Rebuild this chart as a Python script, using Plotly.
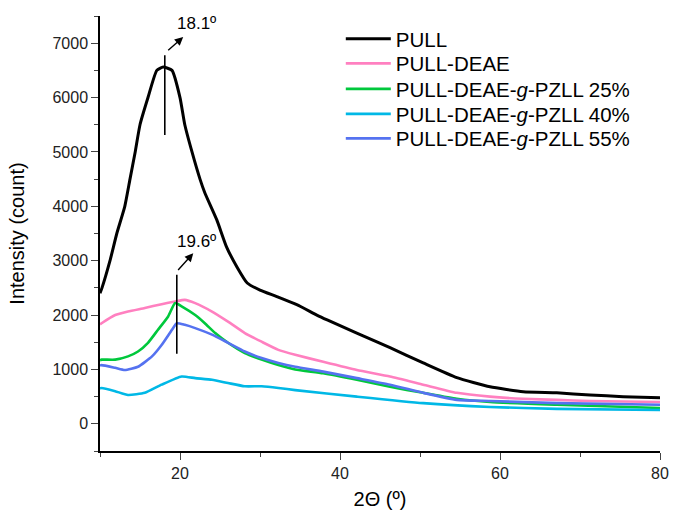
import plotly.graph_objects as go

# PULL (black)
pull_x = [10, 10.25, 11.25, 12.1, 13.1, 13.75, 14.4, 15, 16, 17.1, 17.9, 19, 20, 20.6, 21.5, 22.5, 23.1,
          24.6, 25.8, 27.1, 28.4, 30, 32.1, 34.6, 37.1, 38.4, 42.1, 46.25, 50.4, 54.6, 58.75, 62.9,
          67.1, 71.25, 75.4, 80]
pull_y = [2400, 2500, 3000, 3500, 4000, 4500, 5000, 5500, 6000, 6500, 6560, 6500, 6000, 5500, 5000, 4500, 4250,
          3750, 3260, 2890, 2590, 2460, 2340, 2190, 2000, 1910, 1670, 1400, 1120, 850, 680, 590,
          570, 530, 500, 480]

# PULL-DEAE (pink)
deae_x = [10, 10.2, 11.9, 13.5, 15.6, 17.7, 19.4, 20.6, 21.9, 24, 26, 28.1, 30.2, 32.3, 34.4, 37.9,
          42.1, 46.25, 50.4, 54.6, 58.75, 62.9, 67.1, 71.25, 75.4, 80]
deae_y = [1830, 1850, 2000, 2065, 2130, 2200, 2250, 2280, 2220, 2065, 1880, 1670, 1510, 1360, 1270, 1140,
          990, 870, 720, 570, 500, 460, 440, 420, 410, 400]

# PULL-DEAE-g-PZLL 25% (green)
g25_x = [10, 10.2, 11.9, 13.5, 14.75, 16, 17.25, 18.5, 19.4, 20.2, 21.9, 23.1, 24.4, 26, 28.1, 30.2,
         32.3, 34.4, 37.9, 42.1, 46.25, 50.4, 54.6, 58.75, 67.1, 80]
g25_y = [1170, 1180, 1180, 1240, 1330, 1490, 1730, 1970, 2220, 2160, 2000, 1850, 1670, 1490, 1300, 1180,
         1080, 1000, 930, 810, 680, 570, 460, 400, 350, 290]

# PULL-DEAE-g-PZLL 40% (cyan)
g40_x = [10, 10.2, 11.9, 13.5, 15.6, 17.7, 20.2, 21.9, 24, 26, 28.1, 30.2, 32.3, 34.4, 42.1, 50.4,
         58.75, 67.1, 80]
g40_y = [650, 660, 600, 530, 570, 720, 870, 840, 810, 750, 690, 690, 660, 620, 500, 380,
         310, 275, 255]

# PULL-DEAE-g-PZLL 55% (blue)
g55_x = [10, 10.2, 11.9, 13.1, 14.75, 16.5, 17.7, 19, 19.6, 20.6, 21.9, 24, 26, 28.1, 30.2, 32.3,
         34.4, 37.9, 42.1, 46.25, 50.4, 54.6, 58.75, 67.1, 80]
g55_y = [1070, 1080, 1030, 990, 1050, 1240, 1450, 1730, 1850, 1820, 1760, 1640, 1490, 1330, 1210, 1120,
         1050, 960, 840, 720, 570, 440, 420, 380, 350]

names = ["PULL", "PULL-DEAE", "PULL-DEAE-<i>g</i>-PZLL 25%",
         "PULL-DEAE-<i>g</i>-PZLL 40%", "PULL-DEAE-<i>g</i>-PZLL 55%"]
colors = ["#000000", "#FF80C0", "#00C83C", "#00B8E6", "#5572F0"]
widths = [3.0, 2.6, 2.6, 2.6, 2.6]

peak_labels = ["18.1º", "19.6º"]
peak_x = [18.1, 19.6]
peak_line_y = [[5310, 6780], [1290, 2740]]

series = [(pull_x, pull_y), (deae_x, deae_y), (g25_x, g25_y), (g40_x, g40_y), (g55_x, g55_y)]
legend_ids = ["legend", "legend2", "legend3", "legend4", "legend5"]
legend_row_px = [39, 63.5, 89, 114, 138.5]  # row centres in pixels (layout placement)

FONT = "Liberation Sans, Arial, sans-serif"

fig = go.Figure()
for (xs, ys), n, c, w, lg in zip(series, names, colors, widths, legend_ids):
    fig.add_trace(go.Scatter(x=xs, y=ys, mode="lines", name=n, legend=lg,
                             line=dict(color=c, width=w, shape="spline", smoothing=0.5)))

# peak marker lines
for px, (y0, y1) in zip(peak_x, peak_line_y):
    fig.add_shape(type="line", x0=px, x1=px, y0=y0, y1=y1, xref="x", yref="y",
                  line=dict(color="black", width=1.6))

# arrows
arrows = [((18.34, 6844), (20.4, 7114)), ((19.6, 2800), (21.66, 3138))]
for (tx, ty), (hx, hy) in arrows:
    fig.add_annotation(x=hx, y=hy, ax=tx, ay=ty, xref="x", yref="y", axref="x", ayref="y",
                       showarrow=True, arrowhead=2, arrowsize=1.2, arrowwidth=1.4,
                       arrowcolor="black", text="")
label_pos = [(22.06, 7371), (22.06, 3351)]
for (lx, ly), t in zip(label_pos, peak_labels):
    fig.add_annotation(x=lx, y=ly, xref="x", yref="y", text=t, showarrow=False,
                       font=dict(family=FONT, size=17, color="black"))

plot_top, plot_bottom = 16, 451
legends = {}
for lg, py in zip(legend_ids, legend_row_px):
    legends[lg] = dict(x=0.43, y=(plot_bottom - py) / (plot_bottom - plot_top),
                       xanchor="left", yanchor="middle",
                       bgcolor="rgba(0,0,0,0)", font=dict(family=FONT, size=20.5, color="black"),
                       itemwidth=45)

axis_font = dict(family=FONT, size=16, color="#222")
fig.update_layout(
    width=673, height=515,
    margin=dict(l=100, r=13, t=plot_top, b=515 - plot_bottom),
    paper_bgcolor="white", plot_bgcolor="white",
    font=dict(family=FONT, color="black"),
    showlegend=True,
    xaxis=dict(range=[10, 80], tick0=0, dtick=20, ticks="outside", ticklen=7, tickwidth=1.3,
               showline=True, linecolor="black", linewidth=1.5, showgrid=False, zeroline=False,
               tickfont=axis_font, automargin=False,
               minor=dict(dtick=10, tick0=0, ticks="outside", ticklen=4, tickwidth=1.3, showgrid=False),
               title=dict(text="2Θ (º)", font=dict(family=FONT, size=20, color="black"), standoff=11)),
    yaxis=dict(range=[-500, 7500], tick0=0, dtick=1000, ticks="outside", ticklen=7, tickwidth=1.3,
               showline=True, linecolor="black", linewidth=1.5, showgrid=False, zeroline=False,
               tickfont=axis_font, automargin=False,
               minor=dict(dtick=500, tick0=0, ticks="outside", ticklen=4, tickwidth=1.3, showgrid=False),
               title=dict(text="Intensity (count)", font=dict(family=FONT, size=20, color="black"),
                          standoff=22)),
    **legends,
)

fig.write_html("out.html", config={"displayModeBar": False},
               post_script="document.body.style.margin='0px';")
